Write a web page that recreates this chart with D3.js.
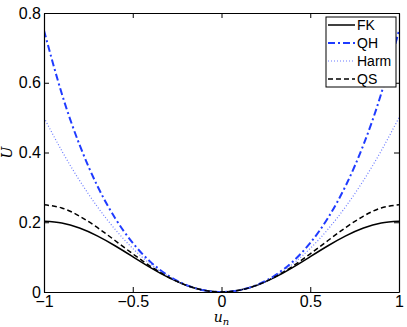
<!DOCTYPE html>
<html>
<head>
<meta charset="utf-8">
<script src="https://cdn.jsdelivr.net/npm/d3@7"></script>
<style>
body { margin: 0; background: #fff; }
text { font-family: "Liberation Sans", Arial, sans-serif; }
</style>
</head>
<body>
<div id="chart"></div>
<script>
// sampled at u = 0, 0.1, ..., 1 (curves are symmetric in u)
var uHalf = [0, 0.1, 0.2, 0.3, 0.4, 0.5, 0.6, 0.7, 0.8, 0.9, 1.0]
var fkHalf = [0, 0.005, 0.0194, 0.0418, 0.070, 0.1013, 0.1326, 0.1609, 0.1833, 0.1977, 0.2026]
var qhHalf = [0, 0.005, 0.0204, 0.047, 0.0864, 0.1406, 0.2124, 0.305, 0.4224, 0.569, 0.75]
var harmHalf = [0, 0.005, 0.02, 0.045, 0.08, 0.125, 0.18, 0.245, 0.32, 0.405, 0.5]
var qsHalf = [0, 0.005, 0.0196, 0.043, 0.0736, 0.1094, 0.1476, 0.185, 0.2176, 0.241, 0.25]
var xTicks = [-1, -0.5, 0, 0.5, 1]
var yTicks = [0, 0.2, 0.4, 0.6, 0.8]
var names = ["FK", "QH", "Harm", "QS"]

function mirror(vals){
    var pts = []
    for (var i = uHalf.length - 1; i > 0; i--) pts.push([-uHalf[i], vals[i]])
    for (var j = 0; j < uHalf.length; j++) pts.push([uHalf[j], vals[j]])
    return pts
}

var series = [
    {name: names[0], pts: mirror(fkHalf), color: "#000", width: 1.5, dash: null},
    {name: names[1], pts: mirror(qhHalf), color: "#1f3bff", width: 2, dash: "7,3,2,3"},
    {name: names[2], pts: mirror(harmHalf), color: "#6b7bff", width: 1.2, dash: "1,2"},
    {name: names[3], pts: mirror(qsHalf), color: "#000", width: 1.5, dash: "5,3"}
]

var W = 407, H = 327
var L = 44, R = 399, T = 13, B = 292

var svg = d3.select("#chart").append("svg").attr("width", W).attr("height", H)

var x = d3.scaleLinear().domain([-1, 1]).range([L, R])
var y = d3.scaleLinear().domain([0, 0.8]).range([B, T])

var line = d3.line()
    .x(function(d){ return x(d[0]) })
    .y(function(d){ return y(d[1]) })
    .curve(d3.curveNatural)

svg.append("defs").append("clipPath").attr("id", "clip")
    .append("rect").attr("x", L).attr("y", T).attr("width", R - L).attr("height", B - T)

svg.append("g").attr("clip-path", "url(#clip)")
    .selectAll("path").data(series).enter().append("path")
    .attr("d", function(d){ return line(d.pts) })
    .attr("fill", "none")
    .attr("stroke", function(d){ return d.color })
    .attr("stroke-width", function(d){ return d.width })
    .attr("stroke-dasharray", function(d){ return d.dash })

// axes with inward ticks, mirrored on top/right
var fmt = function(d){ return d == 0 ? "0" : String(d).replace("-", "\u2212") }
svg.append("g").attr("transform", "translate(0," + B + ")")
    .call(d3.axisBottom(x).tickValues(xTicks).tickSizeInner(-5).tickSizeOuter(0).tickPadding(4).tickFormat(fmt))
svg.append("g").attr("transform", "translate(0," + T + ")")
    .call(d3.axisTop(x).tickValues(xTicks).tickSizeInner(-5).tickSizeOuter(0).tickFormat(""))
svg.append("g").attr("transform", "translate(" + L + ",0)")
    .call(d3.axisLeft(y).tickValues(yTicks).tickSizeInner(-5).tickSizeOuter(0).tickPadding(3).tickFormat(fmt))
svg.append("g").attr("transform", "translate(" + R + ",0)")
    .call(d3.axisRight(y).tickValues(yTicks).tickSizeInner(-5).tickSizeOuter(0).tickFormat(""))

svg.selectAll(".domain").attr("stroke", "#000").attr("stroke-width", 1.2)
svg.selectAll(".tick line").attr("stroke", "#000")
svg.selectAll(".tick text").style("font-size", "16px").attr("fill", "#000")

// axis labels
svg.append("text").attr("x", (L + R) / 2).attr("y", 322)
    .attr("text-anchor", "middle")
    .style("font-family", "DejaVu Serif, serif").style("font-style", "italic").style("font-size", "14px")
    .html('u<tspan dy="3" font-size="10">n</tspan>')
svg.append("text").attr("transform", "translate(12," + ((T + B) / 2) + ") rotate(-90)")
    .attr("text-anchor", "middle")
    .style("font-family", "DejaVu Serif, serif").style("font-style", "italic").style("font-size", "14px")
    .text("U")

// legend
var lg = svg.append("g").attr("transform", "translate(326,17)")
lg.append("rect").attr("width", 70).attr("height", 70)
    .attr("fill", "#fff").attr("stroke", "#000").attr("stroke-width", 1)
var item = lg.selectAll(".item").data(series).enter().append("g")
    .attr("transform", function(d, i){ return "translate(0," + (8 + i * 18) + ")" })
item.append("line").attr("x1", 2).attr("x2", 29).attr("y1", 0).attr("y2", 0)
    .attr("stroke", function(d){ return d.color })
    .attr("stroke-width", function(d){ return d.width })
    .attr("stroke-dasharray", function(d){ return d.dash })
item.append("text").attr("x", 31).attr("y", 5)
    .style("font-size", "14px")
    .text(function(d){ return d.name })
</script>
</body>
</html>
